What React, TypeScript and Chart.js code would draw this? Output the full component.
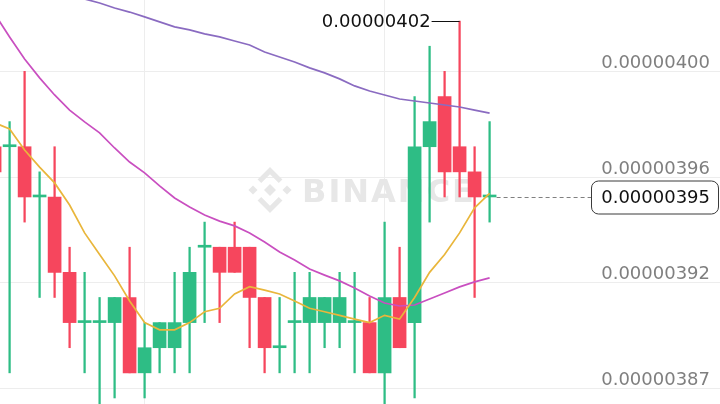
import React, { useEffect, useRef } from "react";
import { Chart, registerables } from "chart.js";

Chart.register(...registerables);

// prices are stored in units of 0.00000001
const PRICE_UNIT = 1e-8;

const candleIndex = [-1, 0, 1, 2, 3, 4, 5, 6, 7, 8, 9, 10, 11, 12, 13, 14, 15, 16, 17, 18, 19, 20, 21, 22, 23, 24, 25, 26, 27, 28, 29, 30, 31, 32];
const openPrices = [397, 397, 397, 395, 395, 392, 390, 390, 390, 391, 388, 389, 389, 390, 393, 393, 393, 393, 391, 389, 390, 390, 390, 390, 390, 390, 388, 391, 390, 397, 399, 397, 396, 395];
const highPrices = [397, 398, 400, 396, 397, 393, 392, 391, 391, 393, 390, 390, 392, 393, 394, 393, 394, 393, 391, 391, 392, 392, 391, 392, 392, 391, 394, 393, 399, 401, 400, 402, 397, 398];
const lowPrices = [396, 388, 394, 391, 391, 389, 388, 386, 387, 388, 387, 388, 388, 388, 390, 390, 392, 389, 388, 388, 388, 388, 389, 389, 388, 388, 386, 389, 387, 394, 395, 395, 391, 394];
const closePrices = [396, 397, 395, 395, 392, 390, 390, 390, 391, 388, 389, 390, 390, 392, 393, 392, 392, 391, 389, 389, 390, 391, 391, 391, 390, 388, 391, 389, 397, 398, 396, 396, 395, 395];

const ma7 = [397.95, 397.71, 396.87, 396.19, 395.56, 394.68, 393.57, 392.71, 391.86, 390.86, 390.0, 389.71, 389.71, 390.0, 390.43, 390.57, 391.14, 391.43, 391.29, 391.14, 390.86, 390.57, 390.43, 390.29, 390.14, 390.0, 390.29, 390.14, 391.0, 392.0, 392.71, 393.57, 394.57, 395.14];
const ma25 = [402.29, 401.37, 400.49, 399.74, 399.06, 398.46, 397.99, 397.55, 396.95, 396.39, 395.96, 395.44, 394.96, 394.6, 394.28, 394.04, 393.85, 393.57, 393.21, 392.81, 392.49, 392.13, 391.89, 391.66, 391.38, 391.06, 390.78, 390.66, 390.7, 390.94, 391.18, 391.42, 391.62, 391.78];
const ma99 = [403.96, 403.8, 403.6, 403.44, 403.24, 403.08, 402.88, 402.72, 402.52, 402.36, 402.17, 401.97, 401.77, 401.65, 401.49, 401.37, 401.21, 401.05, 400.77, 400.57, 400.37, 400.14, 399.94, 399.7, 399.42, 399.22, 399.06, 398.9, 398.82, 398.74, 398.66, 398.58, 398.46, 398.34];

const yTickValues = [387.38, 391.58, 395.78, 399.98];
const xGridIndices = [9, 25];
const xRange = [-0.64, 47.36];
const yRange = [386.76, 402.84];

const UP = "#2EBD85";
const DOWN = "#F6465D";
const FONT = '"DejaVu Sans", sans-serif';

const fmt = (v: number) => (v * PRICE_UNIT).toFixed(8);

function drawLogo(ctx: CanvasRenderingContext2D, cx: number, cy: number, s: number) {
  const poly = (pts: number[][]) => {
    ctx.beginPath();
    pts.forEach(([x, y], i) => {
      const px = cx + x * s;
      const py = cy + y * s;
      if (i === 0) ctx.moveTo(px, py);
      else ctx.lineTo(px, py);
    });
    ctx.closePath();
    ctx.fill();
  };
  const diamond = (x: number, y: number, r: number) =>
    poly([[x, y - r], [x + r, y], [x, y + r], [x - r, y]]);
  diamond(0, 0, 0.13);
  diamond(-0.37, 0, 0.1);
  diamond(0.37, 0, 0.1);
  poly([[0, -0.5], [0.27, -0.23], [0.19, -0.15], [0, -0.34], [-0.19, -0.15], [-0.27, -0.23]]);
  poly([[0, 0.5], [0.27, 0.23], [0.19, 0.15], [0, 0.34], [-0.19, 0.15], [-0.27, 0.23]]);
}

const overlayPlugin = {
  id: "overlay",
  beforeDatasetsDraw(chart: any) {
    const { ctx, chartArea } = chart;
    const cx = (chartArea.left + chartArea.right) / 2;
    const cy = (chartArea.top + chartArea.bottom) / 2;
    ctx.save();
    ctx.fillStyle = "#E7E7E7";
    drawLogo(ctx, cx - 90, cy - 12, 46);
    ctx.font = `bold 32px ${FONT}`;
    try {
      (ctx as any).letterSpacing = "2px";
    } catch (e) {}
    ctx.textAlign = "left";
    ctx.textBaseline = "alphabetic";
    ctx.fillText("BINANCE", cx - 58, cy);
    ctx.restore();
  },
  afterDatasetsDraw(chart: any) {
    const { ctx, chartArea } = chart;
    const xs = chart.scales.x;
    const ys = chart.scales.y;
    ctx.save();
    // y tick labels
    ctx.font = `18px ${FONT}`;
    ctx.fillStyle = "#7F7F7F";
    ctx.textAlign = "right";
    ctx.textBaseline = "alphabetic";
    yTickValues.forEach((v) => {
      const y = ys.getPixelForValue(v);
      ctx.fillText(fmt(v), chartArea.right - 10, y - 3.5);
    });

    // last price line + box
    const last = closePrices.length - 1;
    const lastPrice = closePrices[last];
    const ly = Math.round(ys.getPixelForValue(lastPrice)) + 0.5;
    const boxLeft = chartArea.right - 129;
    const boxRight = chartArea.right - 2;
    ctx.strokeStyle = "#808080";
    ctx.lineWidth = 1;
    ctx.setLineDash([4, 3]);
    ctx.beginPath();
    ctx.moveTo(xs.getPixelForValue(candleIndex[last]) + 7, ly);
    ctx.lineTo(boxLeft, ly);
    ctx.stroke();
    ctx.setLineDash([]);
    ctx.beginPath();
    (ctx as any).roundRect(boxLeft + 0.5, ly - 16.5, boxRight - boxLeft, 33, 7);
    ctx.fillStyle = "#FFFFFF";
    ctx.fill();
    ctx.strokeStyle = "#3A3A3A";
    ctx.stroke();
    ctx.fillStyle = "#111111";
    ctx.textBaseline = "middle";
    ctx.fillText(fmt(lastPrice), chartArea.right - 10, ly + 1);

    // highest price marker
    let hi = 0;
    highPrices.forEach((h, i) => {
      if (h > highPrices[hi]) hi = i;
    });
    const hx = xs.getPixelForValue(candleIndex[hi]);
    const hy = Math.round(ys.getPixelForValue(highPrices[hi])) + 0.5;
    ctx.strokeStyle = "#111111";
    ctx.beginPath();
    ctx.moveTo(hx - 28, hy);
    ctx.lineTo(hx, hy);
    ctx.stroke();
    ctx.textAlign = "right";
    ctx.textBaseline = "middle";
    ctx.fillStyle = "#111111";
    ctx.fillText(fmt(highPrices[hi]), hx - 29, hy + 1);
    ctx.restore();
  },
};

export default function App() {
  const ref = useRef<HTMLCanvasElement>(null);

  useEffect(() => {
    const canvas = ref.current;
    if (!canvas) return;
    const colors = candleIndex.map((_, i) => (closePrices[i] >= openPrices[i] ? UP : DOWN));
    const wickData = candleIndex.map((x, i) => ({ x, y: [lowPrices[i], highPrices[i]] }));
    const bodyData = candleIndex.map((x, i) => ({ x, y: [openPrices[i], closePrices[i]] }));
    const line = (vals: number[]) => candleIndex.map((x, i) => ({ x, y: vals[i] }));

    const chart = new Chart(canvas, {
      type: "bar",
      data: {
        datasets: [
          {
            type: "line",
            label: "MA(7)",
            data: line(ma7),
            borderColor: "#E9B63B",
            borderWidth: 1.7,
            pointRadius: 0,
            tension: 0,
            order: 0,
          } as any,
          {
            type: "line",
            label: "MA(25)",
            data: line(ma25),
            borderColor: "#C94FC0",
            borderWidth: 1.7,
            pointRadius: 0,
            tension: 0,
            order: 0,
          } as any,
          {
            type: "line",
            label: "MA(99)",
            data: line(ma99),
            borderColor: "#8A6BC1",
            borderWidth: 1.7,
            pointRadius: 0,
            tension: 0,
            order: 0,
          } as any,
          {
            type: "bar",
            label: "body",
            data: bodyData,
            backgroundColor: colors,
            borderWidth: 0,
            barThickness: 13,
            minBarLength: 2,
            grouped: false,
            order: 1,
          } as any,
          {
            type: "bar",
            label: "wick",
            data: wickData,
            backgroundColor: colors,
            borderWidth: 0,
            barThickness: 1.6,
            minBarLength: 1,
            grouped: false,
            order: 2,
          } as any,
        ],
      },
      options: {
        responsive: false,
        animation: false,
        devicePixelRatio: 1,
        layout: { padding: 0 },
        plugins: {
          legend: { display: false },
          tooltip: { enabled: false },
        },
        scales: {
          x: {
            type: "linear",
            min: xRange[0],
            max: xRange[1],
            offset: false,
            grid: { color: "#EDEDED", drawTicks: false, offset: false },
            border: { display: false },
            ticks: { display: false },
            afterBuildTicks: (scale: any) => {
              scale.ticks = xGridIndices.map((v) => ({ value: v }));
            },
          },
          y: {
            type: "linear",
            min: yRange[0],
            max: yRange[1],
            grid: { color: "#EDEDED", drawTicks: false },
            border: { display: false },
            ticks: { display: false },
            afterBuildTicks: (scale: any) => {
              scale.ticks = yTickValues.map((v) => ({ value: v }));
            },
          },
        },
      } as any,
      plugins: [overlayPlugin],
    });
    return () => chart.destroy();
  }, []);

  return (
    <div style={{ position: "fixed", left: 0, top: 0, width: 720, height: 404, background: "#FFFFFF" }}>
      <canvas ref={ref} width={720} height={404} style={{ display: "block", width: 720, height: 404 }} />
    </div>
  );
}
